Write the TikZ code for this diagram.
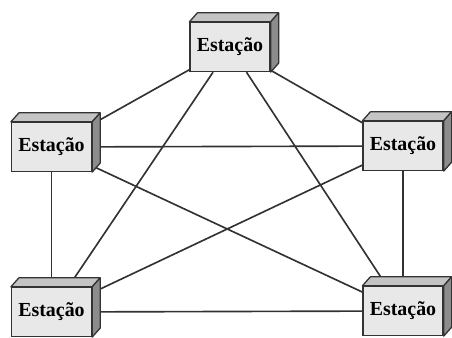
\documentclass[tikz,border=0pt]{standalone}
\usepackage{fontspec}
\setmainfont{Liberation Serif}
\usepackage{tikz}
\usetikzlibrary{calc}
\definecolor{frontgray}{RGB}{232,232,232}
\definecolor{topgray}{RGB}{196,196,196}
\definecolor{sidegray}{RGB}{140,140,140}
\definecolor{linkgray}{RGB}{50,50,50}
\tikzset{
  station/.style={draw=black!80, line width=1.1pt, fill=frontgray,
                  minimum width=80*0.03cm, minimum height=49*0.03cm,
                  inner sep=0pt, font=\fontsize{17}{20}\selectfont\bfseries},
  face/.style={draw=black!80, line width=1.1pt, line join=round},
  link/.style={draw=linkgray, line width=1.4pt},
}

\begin{document}
\begin{tikzpicture}[x=0.03cm,y=0.03cm]
  \path[use as bounding box] (0,0) rectangle (452,337);

  \node[station] (top)   at (230,290)  {Estação};
  \node[station] (left)  at (51.5,190) {Estação};
  \node[station] (right) at (403,191)  {Estação};
  \node[station] (bleft) at (51.5,25)  {Estação};
  \node[station] (bright) at (403,26)  {Estação};

  % every station is linked with every other one
  \draw[link] (top) -- (left);
  \draw[link] (top) -- (right);
  \draw[link] (top) -- (bleft);
  \draw[link] (top) -- (bright);
  \draw[link] (left) -- (right);
  \draw[link] (left) -- (bleft);
  \draw[link] (left) -- (bright);
  \draw[link] (right) -- (bleft);
  \draw[link] (right) -- (bright);
  \draw[link] (bleft) -- (bright);

  % top and side faces of the boxes
  \foreach \n in {top,left,right,bleft,bright}{
    \filldraw[face, fill=topgray] (\n.north west) -- ++(8,9)
      -- ($(\n.north east)+(8,9)$) -- (\n.north east) -- cycle;
    \filldraw[face, fill=sidegray] (\n.north east) -- ++(8,9)
      -- ($(\n.south east)+(8,9)$) -- (\n.south east) -- cycle;
  }
\end{tikzpicture}
\end{document}
